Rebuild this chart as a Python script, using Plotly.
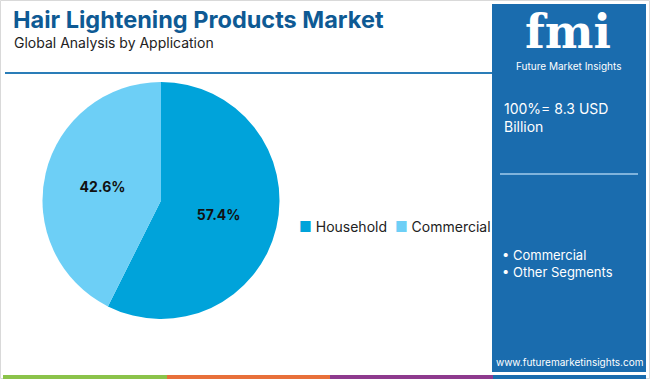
import plotly.graph_objects as go

categories = ["Household", "Commercial"]
shares = [57.4, 42.6]
colors = ["#00A3DA", "#6DCFF6"]
panel_items = ["• Commercial", "• Other Segments"]

W, H = 650, 379

def px(x):
    return x / W

def py(y):
    return 1 - y / H

fig = go.Figure()
fig.add_trace(go.Pie(
    labels=categories, values=shares, sort=False, direction="clockwise", rotation=0,
    marker=dict(colors=colors, line=dict(width=0)),
    textinfo="percent", texttemplate="%{percent:.1%}", textposition="inside",
    insidetextorientation="horizontal",
    textfont=dict(family="Inter", size=14, color="#111111", weight="bold"),
    domain=dict(x=[px(42), px(280)], y=[py(319), py(82)]),
    showlegend=False, hoverinfo="label+percent",
))

shapes = [
    dict(type="rect", xref="paper", yref="paper", x0=px(0.5), x1=px(649.5), y0=py(378.5), y1=py(0.5),
         line=dict(color="#D9D9D9", width=1), fillcolor="rgba(0,0,0,0)", layer="below"),
    dict(type="line", xref="paper", yref="paper", x0=px(5), x1=px(492), y0=py(73), y1=py(73),
         line=dict(color="#2A7DB8", width=2)),
    dict(type="rect", xref="paper", yref="paper", x0=px(492), x1=px(646), y0=py(372), y1=py(4),
         line=dict(width=0), fillcolor="#1A6CAE", layer="below"),
    dict(type="line", xref="paper", yref="paper", x0=px(500), x1=px(638), y0=py(174), y1=py(174),
         line=dict(color="#7FB3DC", width=2)),
    dict(type="rect", xref="paper", yref="paper", x0=px(3), x1=px(167), y0=py(379), y1=py(375),
         line=dict(width=0), fillcolor="#8BC34A"),
    dict(type="rect", xref="paper", yref="paper", x0=px(167), x1=px(330), y0=py(379), y1=py(375),
         line=dict(width=0), fillcolor="#E8703A"),
    dict(type="rect", xref="paper", yref="paper", x0=px(330), x1=px(493), y0=py(379), y1=py(375),
         line=dict(width=0), fillcolor="#8E3A8E"),
    dict(type="rect", xref="paper", yref="paper", x0=px(493), x1=px(646), y0=py(379), y1=py(375),
         line=dict(width=0), fillcolor="#1A6CAE"),
]

for yy in range(16, 54, 4):
    shapes.append(dict(type="line", xref="paper", yref="paper", x0=px(512), x1=px(626),
                       y0=py(yy), y1=py(yy), line=dict(color="#1A6CAE", width=1), layer="above"))

legend_text = "  ".join(
    f"<span style='color:{c}'>■</span> {name}" for name, c in zip(categories, colors)
)

annotations = [
    dict(text="<b>Hair Lightening Products Market</b>", x=px(11), y=py(19), xref="paper", yref="paper",
         xanchor="left", yanchor="middle", showarrow=False,
         font=dict(family="Inter", size=23.5, color="#0E5A94")),
    dict(text="Global Analysis by Application", x=px(12), y=py(42), xref="paper", yref="paper",
         xanchor="left", yanchor="middle", showarrow=False,
         font=dict(family="Inter", size=14, color="#222222")),
    dict(text="<b>fmi</b>", x=px(568), y=py(32), xref="paper", yref="paper",
         xanchor="center", yanchor="middle", showarrow=False,
         font=dict(family="DejaVu Serif", size=46, color="#FFFFFF")),
    dict(text="Future Market Insights", x=px(568), y=py(66), xref="paper", yref="paper",
         xanchor="center", yanchor="middle", showarrow=False,
         font=dict(family="Inter", size=10, color="#FFFFFF")),
    dict(text="100%= 8.3 USD<br>Billion", x=px(502), y=py(118), xref="paper", yref="paper",
         xanchor="left", yanchor="middle", align="left", showarrow=False,
         font=dict(family="Inter", size=14, color="#FFFFFF")),
    dict(text="<br>".join(panel_items), x=px(500), y=py(263), xref="paper", yref="paper",
         xanchor="left", yanchor="middle", align="left", showarrow=False,
         font=dict(family="Inter", size=13, color="#FFFFFF")),
    dict(text="www.futuremarketinsights.com", x=px(569), y=py(362), xref="paper", yref="paper",
         xanchor="center", yanchor="middle", showarrow=False,
         font=dict(family="Inter", size=10, color="#FFFFFF")),
    dict(text=legend_text, x=px(297), y=py(226), xref="paper", yref="paper",
         xanchor="left", yanchor="middle", showarrow=False,
         font=dict(family="Inter", size=14, color="#222222")),
]

fig.update_layout(
    width=W, height=H,
    margin=dict(l=0, r=0, t=0, b=0),
    paper_bgcolor="#FFFFFF", plot_bgcolor="#FFFFFF",
    shapes=shapes, annotations=annotations,
    showlegend=False,
)

fig.write_html("out.html", config={"displayModeBar": False},
               post_script="document.body.style.margin='0';")
